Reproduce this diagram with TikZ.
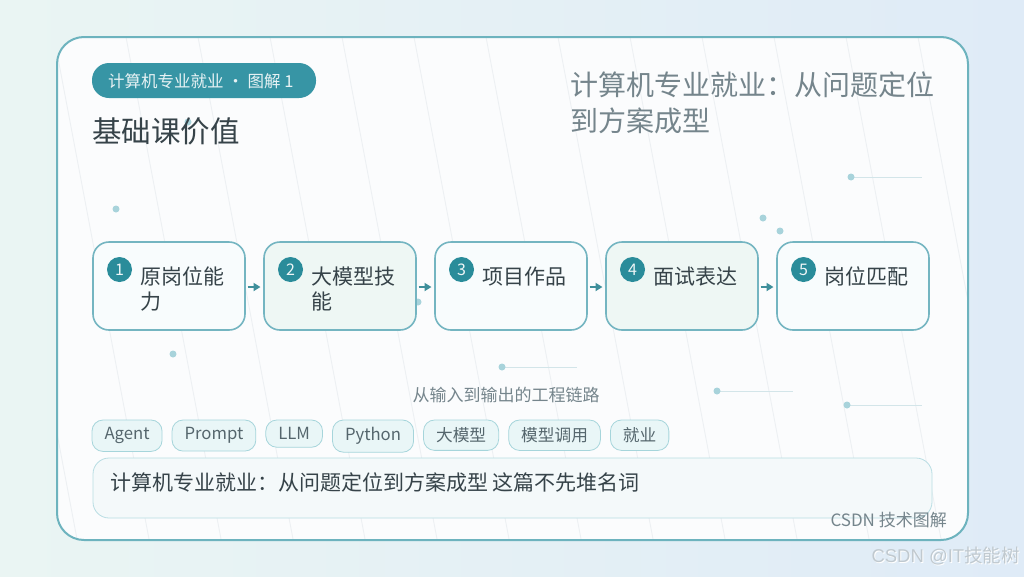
\documentclass[tikz,border=0pt]{standalone}
\usepackage{fontspec}
\setmainfont{Noto Sans CJK SC}
\newfontfamily\markfont{Liberation Sans}
\usetikzlibrary{positioning,arrows.meta,calc}

\definecolor{bgleft}{HTML}{EAF5F3}
\definecolor{bgright}{HTML}{DFEBF7}
\definecolor{cardfill}{HTML}{FBFCFD}
\definecolor{cardline}{HTML}{6DB3BE}
\definecolor{badgefill}{HTML}{3795A5}
\definecolor{numfill}{HTML}{2A8C9A}
\definecolor{boxline}{HTML}{74B5C1}
\definecolor{boxwhite}{HTML}{F8FCFD}
\definecolor{boxmint}{HTML}{EEF7F4}
\definecolor{flowcol}{HTML}{3F8F9B}
\definecolor{dotcol}{HTML}{A8D3DB}
\definecolor{decoline}{HTML}{D3E5E9}
\definecolor{gridcol}{HTML}{EDF0F3}
\definecolor{tagfill}{HTML}{E9F6F7}
\definecolor{tagline}{HTML}{A6D5DB}
\definecolor{noteline}{HTML}{B8DDE3}
\definecolor{notefill}{HTML}{F4F9FA}
\definecolor{inkdark}{HTML}{364349}
\definecolor{inkgray}{HTML}{75858C}
\definecolor{inktag}{HTML}{55666D}
\definecolor{markcol}{HTML}{C0C9CF}

\tikzset{
  stepbox/.style={draw=boxline, line width=1.6pt, rounded corners=16pt, outer sep=0pt,
    minimum width=152pt, minimum height=88pt, inner sep=0pt},
  stepnum/.style={circle, fill=numfill, minimum size=25pt, inner sep=0pt,
    text=white!92!numfill, font=\fontsize{16}{16}\selectfont},
  steptext/.style={anchor=north west, align=left, inner sep=0pt,
    text=inkdark, font=\fontsize{21}{25}\selectfont},
  tagbox/.style={draw=tagline, fill=tagfill, line width=0.8pt, rounded corners=11pt,
    outer sep=0pt, inner xsep=12.5pt, inner ysep=7.5pt, text=inktag,
    font=\fontsize{16.7}{17}\selectfont},
  flow/.style={-{Triangle[length=7pt,width=8pt]}, draw=flowcol, line width=2pt},
  decodot/.style={circle, fill=dotcol, inner sep=0pt, minimum size=7pt},
}

\begin{document}
\begin{tikzpicture}[x=1pt, y=-1pt]
\useasboundingbox (0,0) rectangle (1024,576);
\shade[left color=bgleft, right color=bgright] (0,0) rectangle (1024,576);

% card
\path[fill=cardfill, rounded corners=27pt] (57,37) rectangle (968,540);
\begin{scope}
  \clip[rounded corners=27pt] (57,37) rectangle (968,540);
  \foreach \k in {-1,...,13}
    \draw[gridcol, line width=0.9pt] ({47+72*\k},0) -- ({156+72*\k},576);
\end{scope}
\draw[cardline, line width=2pt, rounded corners=27pt] (57,37) rectangle (968,540);

% decoration
\foreach \a/\b/\c in {851/922/177, 502/577/367, 717/793/391, 847/922/405}
  \draw[decoline, line width=1pt] (\a,\c) -- (\b,\c);
\foreach \p in {(116,209), (173,354), (188,122), (763,218), (780,231), (418,302),
                (851,177), (502,367), (717,391), (847,405)}
  \node[decodot] at \p {};

% header
\node[fill=badgefill, rounded corners=17pt, minimum width=224pt, minimum height=35pt,
  inner sep=0pt] (badge) at (204,80.5) {};
\node[anchor=west, inner sep=0pt, text=white!88!badgefill, font=\fontsize{16.5}{17}\selectfont]
  (badgetext) at (108,81) {计算机专业就业 · 图解 1};
\node[anchor=west, inner sep=0pt, text=inkdark, font=\fontsize{29.5}{30}\selectfont]
  (title) at (92,131.5) {基础课价值};
\node[anchor=north west, align=left, inner sep=0pt, text=inkgray, font=\fontsize{28}{36}\selectfont]
  (headline) at (570,72) {计算机专业就业：从问题定位\\到方案成型};

% steps
\node[stepbox, fill=boxwhite] (s1) at (169,286) {};
\node[stepbox, fill=boxmint, right=19pt of s1] (s2) {};
\node[stepbox, fill=boxwhite, right=19pt of s2] (s3) {};
\node[stepbox, fill=boxmint, right=19pt of s3] (s4) {};
\node[stepbox, fill=boxwhite, right=19pt of s4] (s5) {};

\foreach \i/\lbl in {1/原岗位能\\力, 2/大模型技\\能, 3/项目作品, 4/面试表达, 5/岗位匹配} {
  \node[stepnum] (n\i) at ($(s\i.west)+(26.5,-16.5)$) {\i};
  \node[steptext] (t\i) at ($(s\i.west)+(47,-19.5)$) {\lbl};
}
\foreach \i/\j in {1/2, 2/3, 3/4, 4/5}
  \draw[flow] ([xshift=2.5pt,yshift=-1pt]s\i.east) -- ([xshift=-3.5pt,yshift=-1pt]s\j.west);

\node[inner sep=0pt, text=inkgray, font=\fontsize{17}{17}\selectfont]
  (caption) at (506,395) {从输入到输出的工程链路};

% tags
\node[tagbox, anchor=north west] (g1) at (92,420) {Agent};
\node[tagbox, right=10pt of g1.north east, anchor=north west] (g2) {Prompt};
\node[tagbox, right=10pt of g2.north east, anchor=north west] (g3) {LLM};
\node[tagbox, right=10pt of g3.north east, anchor=north west] (g4) {Python};
\node[tagbox, right=10pt of g4.north east, anchor=north west] (g5) {大模型};
\node[tagbox, right=10pt of g5.north east, anchor=north west] (g6) {模型调用};
\node[tagbox, right=10pt of g6.north east, anchor=north west] (g7) {就业};

% note
\node[draw=noteline, fill=notefill, line width=0.8pt, rounded corners=16pt,
  minimum width=839pt, minimum height=60pt, inner sep=0pt] (note) at (512.5,488) {};
\node[anchor=west, inner sep=0pt, text=inkdark, font=\fontsize{21}{21}\selectfont]
  (notetext) at (110,483) {计算机专业就业：从问题定位到方案成型 这篇不先堆名词};

\node[anchor=east, inner sep=0pt, text=inkgray, font=\fontsize{17}{17}\selectfont]
  (credit) at (947,520) {CSDN 技术图解};
\node[anchor=east, inner sep=0pt, text=white, font=\fontsize{18.5}{19}\selectfont]
  (markshadow) at (1021,557) {{\markfont CSDN @IT}技能树};
\node[anchor=east, inner sep=0pt, text=markcol, font=\fontsize{18.5}{19}\selectfont]
  (mark) at (1020,556) {{\markfont CSDN @IT}技能树};
\end{tikzpicture}
\end{document}
